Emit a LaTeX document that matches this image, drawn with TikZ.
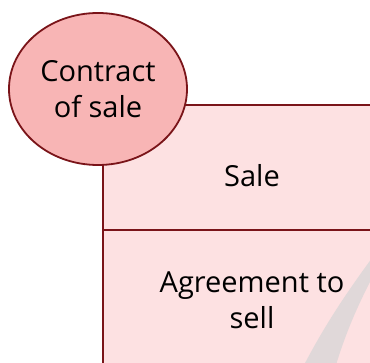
\documentclass[tikz,border=0pt]{standalone}
\usepackage{fontspec}
\setmainfont{Open Sans}
\usetikzlibrary{shapes.geometric}
\definecolor{bord}{HTML}{7A1419}
\definecolor{ellfill}{HTML}{F8B5B5}
\definecolor{boxfill}{HTML}{FDE1E2}
\definecolor{swoosh}{HTML}{E0D8D9}
\tikzset{
  boxstyle/.style={draw=bord, line width=1.8pt, fill=boxfill},
  ellstyle/.style={ellipse, draw=bord, line width=1.8pt, fill=ellfill, minimum width=178pt, minimum height=152pt, inner sep=0pt, align=center, font=\fontsize{29}{36}\selectfont},
  lbl/.style={align=center, font=\fontsize{29}{36}\selectfont, text=black}
}
\begin{document}
\begin{tikzpicture}[x=1pt,y=-1pt]
\useasboundingbox (0,0) rectangle (370,363);
\begin{scope}
\clip (0,0) rectangle (370,363);
\draw[boxstyle] (103,105) rectangle (402,230);
\draw[boxstyle] (103,230) rectangle (402,372);
\fill[swoosh] (304,365) .. controls (325,325) and (345,295) .. (372,258) -- (372,278) .. controls (358,305) and (346,332) .. (336,365) -- cycle;
\end{scope}
\node[lbl] (sale) at (252,176) {Sale};
\node[lbl] (agree) at (252,300) {Agreement to\\sell};
\node[ellstyle] (contract) at (98,89) {Contract\\of sale};
\end{tikzpicture}
\end{document}
